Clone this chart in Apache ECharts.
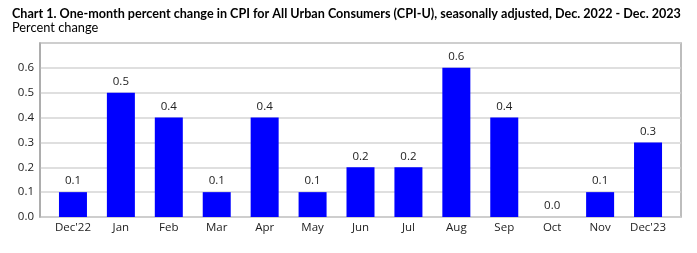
<!DOCTYPE html>
<html>
<head>
<meta charset="utf-8">
<script src="https://cdn.jsdelivr.net/npm/echarts@6/dist/echarts.min.js"></script>
<style>
html, body { margin: 0; padding: 0; background: #fff; }
#main { width: 697px; height: 253px; }
</style>
</head>
<body>
<div id="main"></div>
<script>
// months
var categories = ["Dec'22", 'Jan', 'Feb', 'Mar', 'Apr', 'May', 'Jun', 'Jul', 'Aug', 'Sep', 'Oct', 'Nov', "Dec'23"];
// one-month percent change
var values = [0.1, 0.5, 0.4, 0.1, 0.4, 0.1, 0.2, 0.2, 0.6, 0.4, 0.0, 0.1, 0.3];
var yTicks = [0.0, 0.1, 0.2, 0.3, 0.4, 0.5, 0.6];

var font = 'Open Sans';
var myChart = echarts.init(document.getElementById('main'));
var option = {
    animation: false,
    title: [{
        text: 'Chart 1. One-month percent change in CPI for All Urban Consumers (CPI-U), seasonally adjusted, Dec. 2022 - Dec. 2023',
        left: 7, top: 2,
        textStyle: { fontFamily: 'Lato', fontSize: 12.6, fontWeight: 'bold', color: '#000' }
    }, {
        text: 'Percent change',
        left: 7, top: 16,
        textStyle: { fontFamily: 'Lato', fontSize: 12.8, fontWeight: 'normal', color: '#000' }
    }],
    grid: [{
        // frame
        left: 40, right: 16, top: 43, bottom: 36,
        show: true, borderColor: '#a8a8a8', borderWidth: 1.5
    }, {
        // bars
        left: 49, right: 25, top: 43, bottom: 36
    }],
    xAxis: [{
        gridIndex: 0, type: 'category', data: categories,
        show: false
    }, {
        gridIndex: 1, type: 'category', data: categories,
        axisLine: { show: false },
        axisTick: { show: false },
        axisLabel: { fontFamily: font, fontSize: 11.5, color: '#222', margin: 5, interval: 0 }
    }],
    yAxis: [{
        gridIndex: 0, type: 'value', min: 0, max: 0.7, interval: 0.1,
        axisLine: { show: true, lineStyle: { color: '#a8a8a8', width: 1.5 } },
        axisTick: { show: false },
        splitLine: { show: true, lineStyle: { color: '#d4d4d4', width: 1.5 } },
        axisLabel: {
            fontFamily: font, fontSize: 11.5, color: '#222', margin: 6,
            formatter: function(v) {
                var r = Math.round(v * 10) / 10;
                return yTicks.indexOf(r) >= 0 ? r.toFixed(1) : '';
            }
        }
    }, {
        gridIndex: 1, type: 'value', min: 0, max: 0.7, interval: 0.1,
        show: false
    }],
    series: [{
        type: 'bar',
        xAxisIndex: 1, yAxisIndex: 1,
        data: values,
        barWidth: 28,
        itemStyle: { color: '#0000ff' },
        label: {
            show: true, position: 'top', distance: 5,
            fontFamily: font, fontSize: 11.5, color: '#222',
            formatter: function(p) { return p.value.toFixed(1); }
        }
    }]
};
myChart.setOption(option);
</script>
</body>
</html>
